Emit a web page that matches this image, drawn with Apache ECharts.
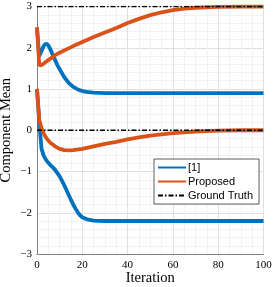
<!DOCTYPE html>
<html><head><meta charset="utf-8">
<script src="https://cdn.jsdelivr.net/npm/echarts@6/dist/echarts.min.js"></script>
<style>html,body{margin:0;padding:0;background:#fff}#c{width:274px;height:287px}</style>
</head><body><div id="c"></div>
<script>
const xTicks = [0, 20, 40, 60, 80, 100];
const yTicks = [-3, -2, -1, 0, 1, 2, 3];

const refUpperX = [0, 1, 2, 3, 4, 5, 6, 7, 8, 9, 10, 12, 14, 16, 18, 20, 22, 25, 30, 40, 60, 80, 100];
const refUpperY = [2.45, 1.8, 1.92, 2.05, 2.1, 2.06, 1.95, 1.82, 1.7, 1.58, 1.48, 1.29, 1.15, 1.05, 0.99, 0.95, 0.93, 0.91, 0.9, 0.9, 0.9, 0.9, 0.9];

const refLowerX = [0, 1, 2, 3, 4, 5, 6, 7, 8, 9, 10, 11, 12, 13, 14, 15, 16, 17, 18, 19, 20, 22, 25, 30, 40, 60, 80, 100];
const refLowerY = [1.0, 0.2, -0.45, -0.62, -0.72, -0.79, -0.85, -0.9, -0.96, -1.04, -1.12, -1.22, -1.33, -1.45, -1.57, -1.69, -1.8, -1.9, -1.99, -2.06, -2.11, -2.16, -2.19, -2.2, -2.2, -2.2, -2.2, -2.2];

const propUpperX = [0, 1, 2, 3, 4, 5, 6, 8, 10, 13, 16, 20, 25, 30, 35, 40, 45, 50, 55, 60, 65, 70, 80, 90, 100];
const propUpperY = [2.5, 1.57, 1.58, 1.62, 1.66, 1.7, 1.74, 1.82, 1.88, 1.96, 2.04, 2.14, 2.26, 2.37, 2.48, 2.6, 2.7, 2.79, 2.86, 2.91, 2.95, 2.97, 2.99, 3.0, 3.0];

const propLowerX = [0, 1, 2, 3, 4, 5, 6, 8, 10, 12, 14, 16, 20, 25, 30, 35, 40, 45, 50, 55, 60, 65, 70, 80, 90, 100];
const propLowerY = [1.0, 0.25, 0.05, -0.08, -0.18, -0.25, -0.31, -0.39, -0.45, -0.48, -0.49, -0.48, -0.45, -0.39, -0.33, -0.28, -0.22, -0.17, -0.13, -0.1, -0.07, -0.05, -0.03, -0.01, 0.0, 0.0];

const truthX = [0, 100];
const truthUpperY = [3, 3];
const truthLowerY = [0, 0];

const seriesNames = ['[1]', 'Proposed', 'Ground Truth'];

function pairs(xs, ys) { return xs.map((x, i) => [x, ys[i]]); }

const BLUE = '#0072BD', ORANGE = '#D95319';
const serif = 'Liberation Serif';
const minus = v => String(v).replace('-', '\u2212');

function line(name, data, color, width, type, z) {
  return { name, type: 'line', data, symbol: 'none', smooth: false, z,
    lineStyle: { color, width, type: type || 'solid' }, itemStyle: { color },
    emphasis: { disabled: true } };
}

const chart = echarts.init(document.getElementById('c'), null, { renderer: 'canvas' });
chart.setOption({
  animation: false,
  grid: { left: 37, right: 10.5, top: 6.5, bottom: 33, containLabel: false, outerBoundsMode: 'none' },
  legend: {
    data: seriesNames, orient: 'vertical', left: 154, top: 159,
    width: 104, itemWidth: 28, itemHeight: 8, itemGap: 3,
    padding: [3, 6, 3, 3], backgroundColor: '#fff', borderColor: '#333', borderWidth: 0.8,
    itemStyle: { opacity: 0 },
    textStyle: { fontFamily: 'Liberation Sans', fontSize: 11, color: '#000', padding: [0, 0, 0, -3] },
    selectedMode: false
  },
  xAxis: {
    type: 'value', min: 0, max: 100, interval: 20,
    name: 'Iteration', nameLocation: 'middle', nameGap: 17, nameMoveOverlap: false,
    nameTextStyle: { fontFamily: serif, fontSize: 14.5, color: '#000' },
    axisLine: { show: true, onZero: false, lineStyle: { color: '#808080', width: 1 } },
    axisTick: { show: false },
    axisLabel: { fontFamily: serif, fontSize: 11, color: '#000', margin: 6 },
    splitLine: { show: true, lineStyle: { color: '#e0e0e0', width: 1 } },
    minorTick: { show: false, splitNumber: 4 },
    minorSplitLine: { show: true, lineStyle: { color: '#f2f2f2', width: 1 } }
  },
  yAxis: {
    type: 'value', min: -3, max: 3, interval: 1,
    name: 'Component Mean', nameLocation: 'middle', nameGap: 23, nameRotate: 90, nameMoveOverlap: false,
    nameTextStyle: { fontFamily: serif, fontSize: 14.5, color: '#000' },
    axisLine: { show: true, onZero: false, lineStyle: { color: '#808080', width: 1 } },
    axisTick: { show: false },
    axisLabel: { fontFamily: serif, fontSize: 11, color: '#000', margin: 5, formatter: minus },
    splitLine: { show: true, lineStyle: { color: '#e0e0e0', width: 1 } },
    minorTick: { show: false, splitNumber: 5 },
    minorSplitLine: { show: true, lineStyle: { color: '#f2f2f2', width: 1 } }
  },
  series: [
    line(seriesNames[0], pairs(refUpperX, refUpperY), BLUE, 3.8, null, 2),
    line(seriesNames[0], pairs(refLowerX, refLowerY), BLUE, 3.8, null, 2),
    line(seriesNames[1], pairs(propUpperX, propUpperY), ORANGE, 3.8, null, 3),
    line(seriesNames[1], pairs(propLowerX, propLowerY), ORANGE, 3.8, null, 3),
    line(seriesNames[2], pairs(truthX, truthUpperY), '#000', 1.3, [5, 2, 1.5, 2], 4),
    line(seriesNames[2], pairs(truthX, truthLowerY), '#000', 1.3, [5, 2, 1.5, 2], 4)
  ]
});
</script></body></html>
